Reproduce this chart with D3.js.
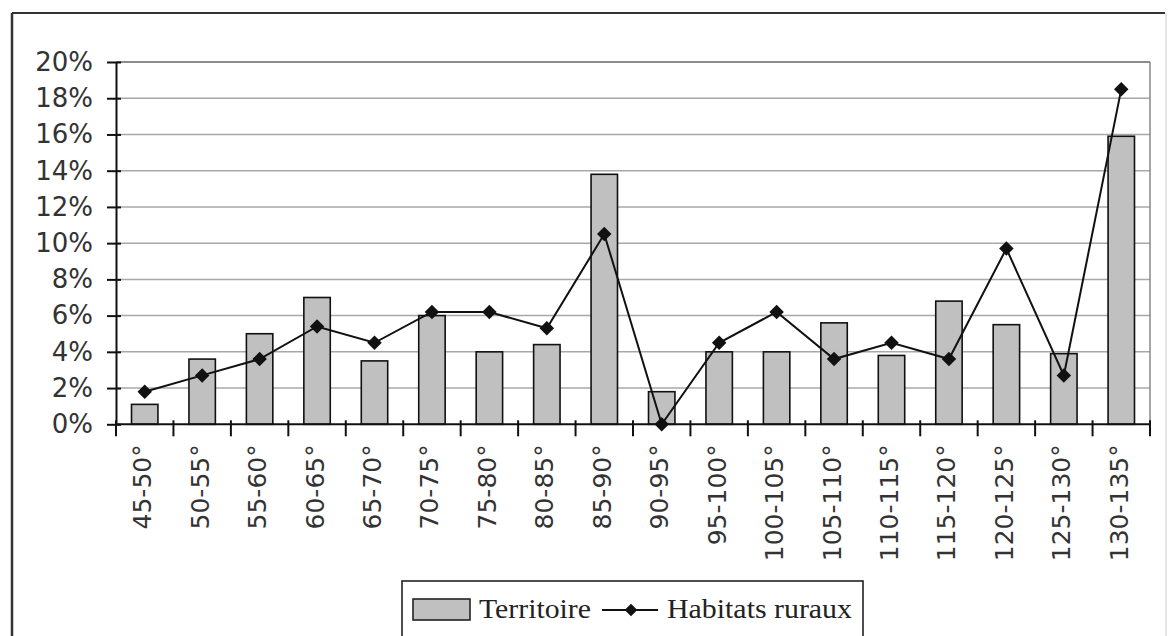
<!DOCTYPE html>
<html>
<head>
<meta charset="utf-8">
<script src="https://cdn.jsdelivr.net/npm/d3@7"></script>
<style>
  html, body { margin: 0; padding: 0; background: #fff; }
  svg { display: block; }
</style>
</head>
<body>
<svg id="chart" width="1168" height="636"></svg>
<script>
const categories = ["45-50°","50-55°","55-60°","60-65°","65-70°","70-75°","75-80°","80-85°","85-90°","90-95°","95-100°","100-105°","105-110°","110-115°","115-120°","120-125°","125-130°","130-135°"];
const territoire = [1.1, 3.6, 5.0, 7.0, 3.5, 6.0, 4.0, 4.4, 13.8, 1.8, 4.0, 4.0, 5.6, 3.8, 6.8, 5.5, 3.9, 15.9];
const habitats = [1.8, 2.7, 3.6, 5.4, 4.5, 6.2, 6.2, 5.3, 10.5, 0.0, 4.5, 6.2, 3.6, 4.5, 3.6, 9.7, 2.7, 18.5];
const yTicks = [0, 2, 4, 6, 8, 10, 12, 14, 16, 18, 20];
const seriesNames = ["Territoire", "Habitats ruraux"];

const svg = d3.select("#chart");
const W = 1168, H = 636;
const plot = { left: 116, right: 1150, top: 62, bottom: 424.3 };

// outer frame
svg.append("line").attr("x1", 12).attr("x2", 1165).attr("y1", 13).attr("y2", 13)
  .attr("stroke", "#333").attr("stroke-width", 2);
svg.append("line").attr("x1", 12).attr("x2", 12).attr("y1", 13).attr("y2", H)
  .attr("stroke", "#333").attr("stroke-width", 2.5);
svg.append("line").attr("x1", 1166).attr("x2", 1166).attr("y1", 13).attr("y2", H)
  .attr("stroke", "#ddd").attr("stroke-width", 1.5);

const x = d3.scaleBand().domain(categories).range([plot.left, plot.right]).paddingInner(0).paddingOuter(0);
const y = d3.scaleLinear().domain([0, 20]).range([plot.bottom, plot.top]);

// gridlines
svg.append("g").selectAll("line").data(yTicks.filter(d => d > 0)).join("line")
  .attr("x1", plot.left).attr("x2", plot.right)
  .attr("y1", d => y(d)).attr("y2", d => y(d))
  .attr("stroke", d => d === 20 ? "#666" : "#a8a8a8").attr("stroke-width", 1.5);

// plot area right border
svg.append("line").attr("x1", plot.right).attr("x2", plot.right)
  .attr("y1", plot.top).attr("y2", plot.bottom)
  .attr("stroke", "#888").attr("stroke-width", 1.5);

// bars
const bw = x.bandwidth() * 0.46;
svg.append("g").selectAll("rect").data(categories).join("rect")
  .attr("x", (d) => x(d) + (x.bandwidth() - bw) / 2)
  .attr("y", (d, i) => y(territoire[i]))
  .attr("width", bw)
  .attr("height", (d, i) => y(0) - y(territoire[i]))
  .attr("fill", "#c0c0c0")
  .attr("stroke", "#111")
  .attr("stroke-width", 1.6);

// y axis
const yAxis = d3.axisLeft(y).tickValues(yTicks).tickFormat(d => d + "%").tickSizeInner(9).tickSizeOuter(0).tickPadding(14);
const gy = svg.append("g").attr("transform", `translate(${plot.left},0)`).call(yAxis);
gy.select(".domain").attr("stroke", "#111").attr("stroke-width", 2);
gy.selectAll(".tick line").attr("stroke", "#111").attr("stroke-width", 2);
gy.selectAll(".tick").append("line").attr("x1", 0).attr("x2", 5).attr("stroke", "#111").attr("stroke-width", 2);
gy.selectAll("text").attr("font-family", "DejaVu Sans").attr("font-size", 26).attr("fill", "#333");

// x axis
const boundaries = categories.map(c => x(c)).concat([plot.right]);
svg.append("line").attr("x1", plot.left).attr("x2", plot.right).attr("y1", plot.bottom).attr("y2", plot.bottom)
  .attr("stroke", "#111").attr("stroke-width", 2);
svg.append("g").selectAll("line").data(boundaries).join("line")
  .attr("x1", d => d).attr("x2", d => d)
  .attr("y1", plot.bottom - 4).attr("y2", plot.bottom + 12)
  .attr("stroke", "#111").attr("stroke-width", 2);
svg.append("g").selectAll("text").data(categories).join("text")
  .attr("transform", d => `translate(${x(d) + x.bandwidth() / 2 - 2},${plot.bottom + 20}) rotate(-90)`)
  .attr("text-anchor", "end")
  .attr("dominant-baseline", "central")
  .attr("font-family", "DejaVu Sans")
  .attr("font-size", 25)
  .attr("fill", "#333")
  .text(d => d);

// line
const line = d3.line().x((d, i) => x(categories[i]) + x.bandwidth() / 2).y(d => y(d));
svg.append("path").datum(habitats).attr("d", line)
  .attr("fill", "none").attr("stroke", "#111").attr("stroke-width", 2);
svg.append("g").selectAll("path").data(habitats).join("path")
  .attr("transform", (d, i) => `translate(${x(categories[i]) + x.bandwidth() / 2},${y(d)}) rotate(45)`)
  .attr("d", d3.symbol().type(d3.symbolSquare).size(105))
  .attr("fill", "#111");

// legend
const lg = svg.append("g");
lg.append("rect").attr("x", 402).attr("y", 581).attr("width", 461).attr("height", 60)
  .attr("fill", "#fff").attr("stroke", "#222").attr("stroke-width", 1.6);
lg.append("rect").attr("x", 413).attr("y", 599).attr("width", 57).attr("height", 21)
  .attr("fill", "#c0c0c0").attr("stroke", "#222").attr("stroke-width", 1.6);
lg.append("text").attr("x", 479).attr("y", 618)
  .attr("font-family", "Liberation Serif").attr("font-size", 27).attr("fill", "#222")
  .attr("textLength", 112).attr("lengthAdjust", "spacingAndGlyphs")
  .text(seriesNames[0]);
lg.append("line").attr("x1", 602).attr("x2", 658).attr("y1", 610).attr("y2", 610)
  .attr("stroke", "#111").attr("stroke-width", 2);
lg.append("path").attr("transform", "translate(631,610) rotate(45)")
  .attr("d", d3.symbol().type(d3.symbolSquare).size(80)).attr("fill", "#111");
lg.append("text").attr("x", 667).attr("y", 618)
  .attr("font-family", "Liberation Serif").attr("font-size", 27).attr("fill", "#222")
  .attr("textLength", 185).attr("lengthAdjust", "spacingAndGlyphs")
  .text(seriesNames[1]);
</script>
</body>
</html>
